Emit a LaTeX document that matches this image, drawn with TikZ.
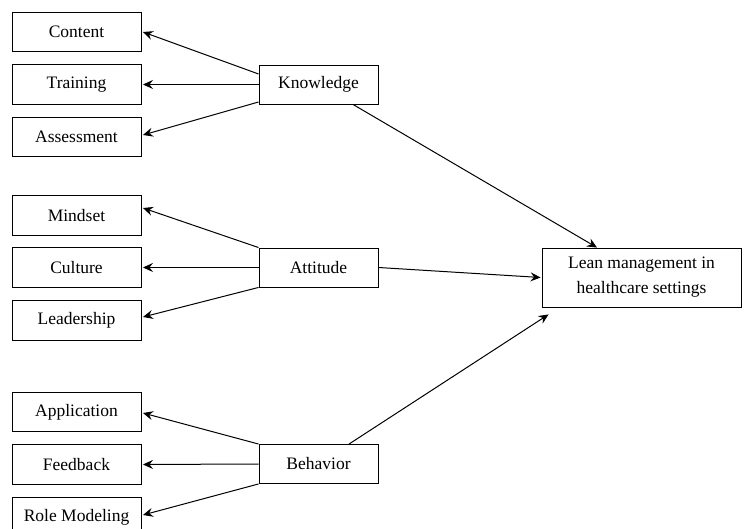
\documentclass[tikz,border=0pt]{standalone}
\usepackage{fontspec}
\setmainfont{Liberation Serif}
\usetikzlibrary{arrows.meta}
\begin{document}
\begin{tikzpicture}[x=1pt,y=-1pt,
  box/.style={draw, line width=0.9pt, inner sep=0pt, font=\fontsize{17.5}{25}\selectfont, align=center},
  leaf/.style={box, minimum width=129pt, minimum height=39.5pt},
  mid/.style={box, minimum width=119pt, minimum height=39pt},
  conn/.style={line width=1pt, -{Stealth[length=10pt,width=9pt,inset=3.5pt]}}]
\useasboundingbox (0,0) rectangle (745,529);
\clip (0,0) rectangle (745,529);
\node[leaf] (content) at (76.5,32) {Content};
\node[leaf] (training) at (76.5,84.5) {Training};
\node[leaf] (assess) at (76.5,137) {Assessment};
\node[mid] (know) at (318.5,84.5) {Knowledge};
\node[leaf] (mind) at (76.5,215.5) {Mindset};
\node[leaf] (cult) at (76.5,267.5) {Culture};
\node[leaf] (lead) at (76.5,320.5) {Leadership};
\node[mid] (att) at (318.5,267.5) {Attitude};
\node[leaf] (appl) at (76.5,412) {Application};
\node[leaf] (feed) at (76.5,464.5) {Feedback};
\node[leaf] (role) at (76.5,517) {Role Modeling};
\node[mid] (beh) at (318.5,464) {Behavior};
\node[box, minimum width=199pt, minimum height=59pt] (lean) at (641.5,277.5) {Lean management in\\healthcare settings};

\draw[conn] ([yshift=10.5pt]know.west) -- ([xshift=1.5pt]content.east);
\draw[conn] (know.west) -- ([xshift=1.5pt]training.east);
\draw[conn] ([yshift=-17.5pt]know.west) -- ([xshift=1.5pt,yshift=2pt]assess.east);

\draw[conn] (att.north west) -- ([xshift=1.5pt,yshift=7.5pt]mind.east);
\draw[conn] (att.west) -- ([xshift=1.5pt]cult.east);
\draw[conn] (att.south west) -- ([xshift=1.5pt,yshift=3.5pt]lead.east);

\draw[conn] (beh.north west) -- ([xshift=1.5pt,yshift=-1pt]appl.east);
\draw[conn] (beh.west) -- ([xshift=1.5pt]feed.east);
\draw[conn] (beh.south west) -- ([xshift=1.5pt,yshift=2pt]role.east);

\draw[conn] ([xshift=34.5pt]know.south) -- ([xshift=-44.5pt]lean.north);
\draw[conn] (att.east) -- ([xshift=-1pt]lean.west);
\draw[conn] ([xshift=30.5pt]beh.north) -- ([xshift=7pt,yshift=-7pt]lean.south west);
\end{tikzpicture}
\end{document}
